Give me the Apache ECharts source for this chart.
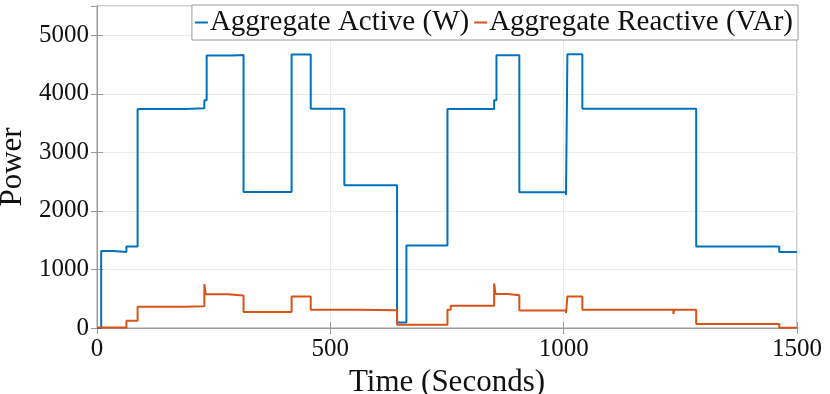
<!DOCTYPE html>
<html>
<head>
<meta charset="utf-8">
<script src="https://cdn.jsdelivr.net/npm/echarts@6/dist/echarts.min.js"></script>
<style>
  html, body { margin: 0; padding: 0; background: #fff; }
  #chart { width: 830px; height: 394px; }
</style>
</head>
<body>
<div id="chart"></div>
<script>
// step change times (s) and the level held from that time on
var activeTime  = [0, 9, 35, 63, 87, 188, 230, 235, 290, 314, 417, 458, 530, 643, 663, 751, 851, 856, 905, 1005, 1008, 1040, 1284, 1462, 1500]
var activeValue = [0, 1315, 1300, 1390, 3740, 3755, 3890, 4655, 4665, 2325, 4670, 3745, 2440, 95, 1410, 3740, 3890, 4660, 2320, 2270, 4675, 3745, 1390, 1300, 1300]

var reactiveTime  = [0, 63, 87, 188, 230, 233, 280, 314, 417, 458, 560, 643, 751, 758, 851, 854, 880, 905, 1005, 1008, 1040, 1235, 1237, 1284, 1462, 1500]
var reactiveValue = [10, 125, 365, 370, 750, 575, 555, 272, 540, 312, 305, 56, 312, 380, 760, 580, 560, 300, 255, 540, 312, 240, 312, 68, 5, 5]

var xTicks = [0, 500, 1000, 1500]
var yTicks = [0, 1000, 2000, 3000, 4000, 5000]

function pairs(t, v) {
    var out = []
    for (var i = 0; i < t.length; i++) out.push([t[i], v[i]])
    return out
}

function plain(v) { return String(v) }

var font = 'Liberation Serif'
var axisGray = '#9a9a9a'

var chart = echarts.init(document.getElementById('chart'))
var option = {
    animation: false,
    grid: {
        left: 97, right: 33, top: 6, bottom: 66,
        containLabel: false,
        outerBoundsMode: 'none',
        show: true,
        borderColor: axisGray,
        borderWidth: 1,
        backgroundColor: '#fff'
    },
    legend: {
        right: 32,
        top: 5,
        orient: 'horizontal',
        backgroundColor: '#fff',
        borderColor: axisGray,
        borderWidth: 1,
        borderRadius: 0,
        padding: [3, 5, 3, 3],
        itemGap: 5,
        itemWidth: 13,
        itemHeight: 2,
        icon: 'rect',
        textStyle: { fontFamily: font, fontSize: 29, color: '#111', padding: [0, 0, 0, -3], lineHeight: 28 },
        data: ['Aggregate Active (W)', 'Aggregate Reactive (VAr)']
    },
    xAxis: [{
        type: 'value',
        min: xTicks[0], max: xTicks[xTicks.length - 1], interval: 500,
        name: 'Time (Seconds)',
        nameLocation: 'middle',
        nameGap: 28,
        nameTextStyle: { fontFamily: font, fontSize: 31, color: '#111' },
        axisLine: { show: true, lineStyle: { color: axisGray } },
        axisTick: { show: true, inside: true, length: 6, lineStyle: { color: axisGray } },
        axisLabel: { fontFamily: font, fontSize: 25, color: '#111', margin: 9, formatter: plain },
        splitLine: { show: true, lineStyle: { color: '#ebebeb' } }
    }, {
        type: 'value', position: 'top',
        min: 0, max: 1500, interval: 500,
        axisLine: { show: false },
        axisTick: { show: true, inside: true, length: 6, lineStyle: { color: axisGray } },
        axisLabel: { show: false },
        splitLine: { show: false }
    }],
    yAxis: [{
        type: 'value',
        min: yTicks[0], max: 5500, interval: 1000,
        name: 'Power',
        nameLocation: 'middle',
        nameGap: 52,
        nameTextStyle: { fontFamily: font, fontSize: 31, color: '#111' },
        axisLine: { show: true, lineStyle: { color: axisGray } },
        axisTick: { show: true, inside: true, length: 6, lineStyle: { color: axisGray } },
        axisLabel: { fontFamily: font, fontSize: 25, color: '#111', margin: 8, showMaxLabel: false, formatter: plain },
        splitLine: { show: true, lineStyle: { color: '#ebebeb' } }
    }, {
        type: 'value', position: 'right',
        min: 0, max: 5500, interval: 1000,
        axisLine: { show: false },
        axisTick: { show: true, inside: true, length: 6, lineStyle: { color: axisGray } },
        axisLabel: { show: false },
        splitLine: { show: false }
    }],
    series: [{
        name: 'Aggregate Active (W)',
        type: 'line',
        step: 'end',
        symbol: 'none',
        color: '#0072BD',
        lineStyle: { width: 2, color: '#0072BD' },
        data: pairs(activeTime, activeValue)
    }, {
        name: 'Aggregate Reactive (VAr)',
        type: 'line',
        step: 'end',
        symbol: 'none',
        color: '#D95319',
        lineStyle: { width: 2, color: '#D95319' },
        data: pairs(reactiveTime, reactiveValue)
    }]
}
option && chart.setOption(option)
</script>
</body>
</html>
